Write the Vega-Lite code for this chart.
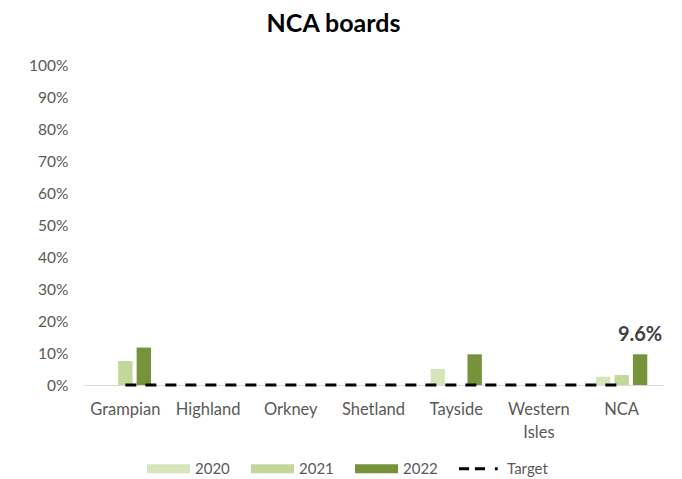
{
  "$schema": "https://vega.github.io/schema/vega-lite/v6.json",
  "width": 579,
  "height": 320,
  "autosize": {"type": "none"},
  "padding": {"left": 84, "top": 65, "right": 19, "bottom": 94},
  "background": "white",
  "config": {
    "font": "Lato",
    "view": {"stroke": null},
    "axis": {"labelFont": "Lato", "labelFontSize": 15, "labelColor": "#595959", "grid": false, "ticks": false, "title": null, "labelOverlap": false}
  },
  "title": {"text": "NCA boards", "fontSize": 25, "fontWeight": "bold", "color": "#000000", "font": "Lato", "anchor": "middle", "dx": -40, "offset": 21},
  "datasets": {
    "bars": [
      {"board": "Grampian", "year": "2021", "value": 0.075},
      {"board": "Grampian", "year": "2022", "value": 0.117},
      {"board": "Tayside", "year": "2020", "value": 0.05},
      {"board": "Tayside", "year": "2022", "value": 0.096},
      {"board": "NCA", "year": "2020", "value": 0.026},
      {"board": "NCA", "year": "2021", "value": 0.031},
      {"board": "NCA", "year": "2022", "value": 0.096}
    ],
    "target": [
      {"board": "Grampian", "series": "Target", "value": 0},
      {"board": "Highland", "series": "Target", "value": 0},
      {"board": "Orkney", "series": "Target", "value": 0},
      {"board": "Shetland", "series": "Target", "value": 0},
      {"board": "Tayside", "series": "Target", "value": 0},
      {"board": "Western Isles", "series": "Target", "value": 0},
      {"board": "NCA", "series": "Target", "value": 0}
    ]
  },
  "encoding": {
    "x": {
      "field": "board",
      "type": "nominal",
      "sort": ["Grampian", "Highland", "Orkney", "Shetland", "Tayside", "Western Isles", "NCA"],
      "scale": {"paddingInner": 0.38, "paddingOuter": 0.19},
      "axis": {
        "labelAngle": 0,
        "labelPadding": 16,
        "labelFontSize": 16.5,
        "labelLineHeight": 23,
        "domainColor": "#D9D9D9",
        "domainWidth": 1,
        "labelExpr": "datum.value === 'Western Isles' ? ['Western', 'Isles'] : datum.label"
      }
    },
    "y": {
      "field": "value",
      "type": "quantitative",
      "scale": {"domain": [0, 1], "nice": false},
      "axis": {"values": [0, 0.1, 0.2, 0.3, 0.4, 0.5, 0.6, 0.7, 0.8, 0.9, 1], "format": ".0%", "domain": false, "labelPadding": 16, "labelFontSize": 15.5, "labelOverlap": false}
    }
  },
  "layer": [
    {
      "data": {"name": "bars"},
      "mark": {"type": "bar"},
      "encoding": {
        "xOffset": {"field": "year", "type": "nominal", "sort": ["2020", "2021", "2022"], "scale": {"domain": ["2020", "2021", "2022"], "paddingInner": 0.22, "paddingOuter": 0}},
        "color": {
          "field": "year",
          "type": "nominal",
          "scale": {"domain": ["2020", "2021", "2022", "Target"], "range": ["#D8E4BC", "#C4D79B", "#76933C", "#000000"]},
          "legend": {
            "title": null,
            "orient": "none",
            "direction": "horizontal",
            "legendX": 63,
            "legendY": 382,
            "symbolSize": 1849,
            "labelFont": "Lato",
            "labelFontSize": 15,
            "labelColor": "#595959",
            "labelOffset": 5,
            "columnPadding": 21,
            "encode": {
              "symbols": {
                "update": {
                  "shape": {"signal": "datum.value === 'Target' ? 'M-1,-0.07H-0.53V0.07H-1Z M-0.26,-0.07H0.21V0.07H-0.26Z M0.67,-0.07H0.8V0.07H0.67Z' : 'M-1,-0.21H1V0.21H-1Z'"},
                  "fill": {"scale": "color", "field": "value"},
                  "stroke": {"value": "transparent"},
                  "strokeWidth": {"value": 0},
                  "opacity": {"value": 1},
                  "fillOpacity": {"value": 1}
                }
              }
            }
          }
        }
      }
    },
    {
      "data": {"name": "target"},
      "mark": {"type": "line", "strokeWidth": 3, "strokeDash": [11, 9], "strokeCap": "butt"},
      "encoding": {
        "color": {"field": "series", "type": "nominal"}
      }
    },
    {
      "data": {"name": "bars"},
      "transform": [{"filter": "datum.board === 'NCA' && datum.year === '2022'"}],
      "mark": {"type": "text", "fontSize": 20, "fontWeight": "bold", "color": "#404040", "baseline": "bottom", "dy": -9, "font": "Lato"},
      "encoding": {
        "xOffset": {"field": "year", "type": "nominal", "sort": ["2020", "2021", "2022"], "scale": {"domain": ["2020", "2021", "2022"], "paddingInner": 0.22, "paddingOuter": 0}},
        "text": {"field": "value", "type": "quantitative", "format": ".1%"}
      }
    }
  ]
}
